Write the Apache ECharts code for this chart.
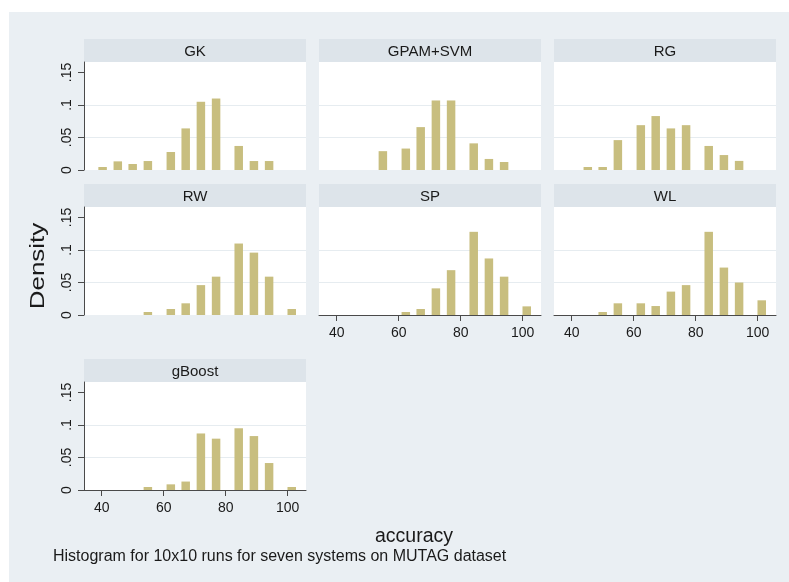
<!DOCTYPE html>
<html>
<head>
<meta charset="utf-8">
<title>Histogram for 10x10 runs for seven systems on MUTAG dataset</title>
<script src="https://cdn.jsdelivr.net/npm/echarts@6/dist/echarts.min.js"></script>
<style>
  html, body { margin: 0; padding: 0; background: #ffffff; }
  #chart { width: 789px; height: 582px; }
</style>
</head>
<body>
<div id="chart"></div>
<script>
// Accuracy bins (percent) shared by every system
const binCenters = [40.3, 45.2, 50.0, 54.9, 62.3, 67.1, 72.0, 76.9, 84.2, 89.1, 94.0, 101.3];

// Density per bin, one list per system
const densityGK      = [0.0046, 0.0133, 0.0092, 0.0138, 0.0277, 0.064, 0.105, 0.110, 0.037, 0.0138, 0.0138, 0];
const densityGPAMSVM = [0, 0, 0, 0.029, 0.033, 0.066, 0.107, 0.107, 0.041, 0.017, 0.0123, 0];
const densityRG      = [0, 0.0046, 0.0046, 0.046, 0.069, 0.083, 0.064, 0.069, 0.037, 0.023, 0.014, 0];
const densityRW      = [0, 0, 0, 0.0046, 0.0092, 0.018, 0.046, 0.059, 0.110, 0.096, 0.059, 0.0092];
const densitySP      = [0, 0, 0, 0, 0.0046, 0.0092, 0.041, 0.069, 0.128, 0.087, 0.059, 0.0133];
const densityWL      = [0, 0, 0.0046, 0.018, 0.018, 0.0138, 0.036, 0.046, 0.128, 0.073, 0.050, 0.0226];
const densityGBoost  = [0, 0, 0, 0.0046, 0.0087, 0.013, 0.087, 0.079, 0.095, 0.083, 0.0415, 0.0046];

const systemNames = ['GK', 'GPAM+SVM', 'RG', 'RW', 'SP', 'WL', 'gBoost'];
const systemDensities = [densityGK, densityGPAMSVM, densityRG, densityRW, densitySP, densityWL, densityGBoost];

// Axis ticks
const xTickValues = [40, 60, 80, 100];
const yTickValues = [0, 0.05, 0.1, 0.15];
const yTickLabels = ['0', '.05', '.1', '.15'];

// Titles
const yTitle = 'Density';
const xTitle = 'accuracy';
const caption = 'Histogram for 10x10 runs for seven systems on MUTAG dataset';

// ---- layout ----
const FONT = '"Liberation Sans", Arial, Helvetica, sans-serif';
const colLeft = [84, 319, 554];
const rowTop = [39, 184, 359];
const panelW = 222;
const stripH = 23;
const plotH = 108;
const BG = '#eaeff3';
const STRIP = '#dde4ea';
const BAR = '#c8be7f';
const AXIS = '#4a4a4a';
const TEXT = '#1a1a1a';

const xRange = [34.3, 105.9];
const yRange = [0, 0.1662];

const grids = [], xAxes = [], yAxes = [], series = [];
const graphics = [
  { type: 'rect', shape: { x: 9, y: 12, width: 780, height: 570 }, style: { fill: BG }, z: -10, silent: true }
];

systemNames.forEach((name, i) => {
  const row = Math.floor(i / 3), col = i % 3;
  const left = colLeft[col];
  const top = rowTop[row] + stripH;
  const showY = col === 0;
  const showX = (name === 'SP' || name === 'WL' || name === 'gBoost');

  grids.push({ left: left, top: top, width: panelW, height: plotH,
               show: true, backgroundColor: '#ffffff', borderWidth: 0 });

  // heading strip above each panel
  graphics.push({ type: 'rect', shape: { x: left, y: rowTop[row], width: panelW, height: stripH },
                  style: { fill: STRIP }, silent: true });
  graphics.push({ type: 'text', x: left + panelW / 2, y: rowTop[row] + stripH / 2 + 1,
                  style: { text: name, fill: TEXT, font: '15px ' + FONT, textAlign: 'center', textVerticalAlign: 'middle' },
                  silent: true });

  xAxes.push({
    type: 'value', gridIndex: i, min: xRange[0], max: xRange[1],
    axisLine: { show: showX, onZero: false, lineStyle: { color: AXIS, width: 1 } },
    axisTick: { show: showX, length: 6, customValues: xTickValues, lineStyle: { color: AXIS } },
    axisLabel: { show: showX, customValues: xTickValues, margin: 11, color: TEXT, fontSize: 14, fontFamily: FONT },
    splitLine: { show: false }
  });

  yAxes.push({
    type: 'value', gridIndex: i, min: yRange[0], max: yRange[1], interval: 0.05,
    axisLine: { show: showY, lineStyle: { color: AXIS, width: 1 } },
    axisTick: { show: showY, length: 6, customValues: yTickValues, lineStyle: { color: AXIS } },
    axisLabel: {
      show: showY, customValues: yTickValues, rotate: 90, margin: 10,
      color: TEXT, fontSize: 14, fontFamily: FONT,
      formatter: v => yTickLabels[yTickValues.findIndex(t => Math.abs(t - v) < 1e-9)]
    },
    splitLine: { show: true, showMinLine: false, showMaxLine: false, lineStyle: { color: '#e6ecf0', width: 1 } }
  });

  const data = [];
  binCenters.forEach((x, k) => {
    const d = systemDensities[i][k];
    if (d > 0) data.push([x, d]);
  });

  series.push({
    type: 'bar', name: name, xAxisIndex: i, yAxisIndex: i,
    data: data, barWidth: 8.5,
    itemStyle: { color: BAR },
    silent: true, animation: false
  });
});

// axis titles and caption
graphics.push({ type: 'text', x: 38, y: 266, rotation: Math.PI / 2, scaleX: 1.3,
                style: { text: yTitle, fill: TEXT, font: '20px ' + FONT, textAlign: 'center', textVerticalAlign: 'middle' }, silent: true });
graphics.push({ type: 'text', x: 414, y: 537,
                style: { text: xTitle, fill: TEXT, font: '19.5px ' + FONT, textAlign: 'center', textVerticalAlign: 'middle' }, silent: true });
graphics.push({ type: 'text', x: 53, y: 557,
                style: { text: caption, fill: TEXT, font: '16px ' + FONT, textAlign: 'left', textVerticalAlign: 'middle' }, silent: true });

const chart = echarts.init(document.getElementById('chart'), null, { renderer: 'canvas' });
chart.setOption({
  backgroundColor: '#ffffff',
  animation: false,
  grid: grids,
  xAxis: xAxes,
  yAxis: yAxes,
  series: series,
  graphic: graphics
});
</script>
</body>
</html>
